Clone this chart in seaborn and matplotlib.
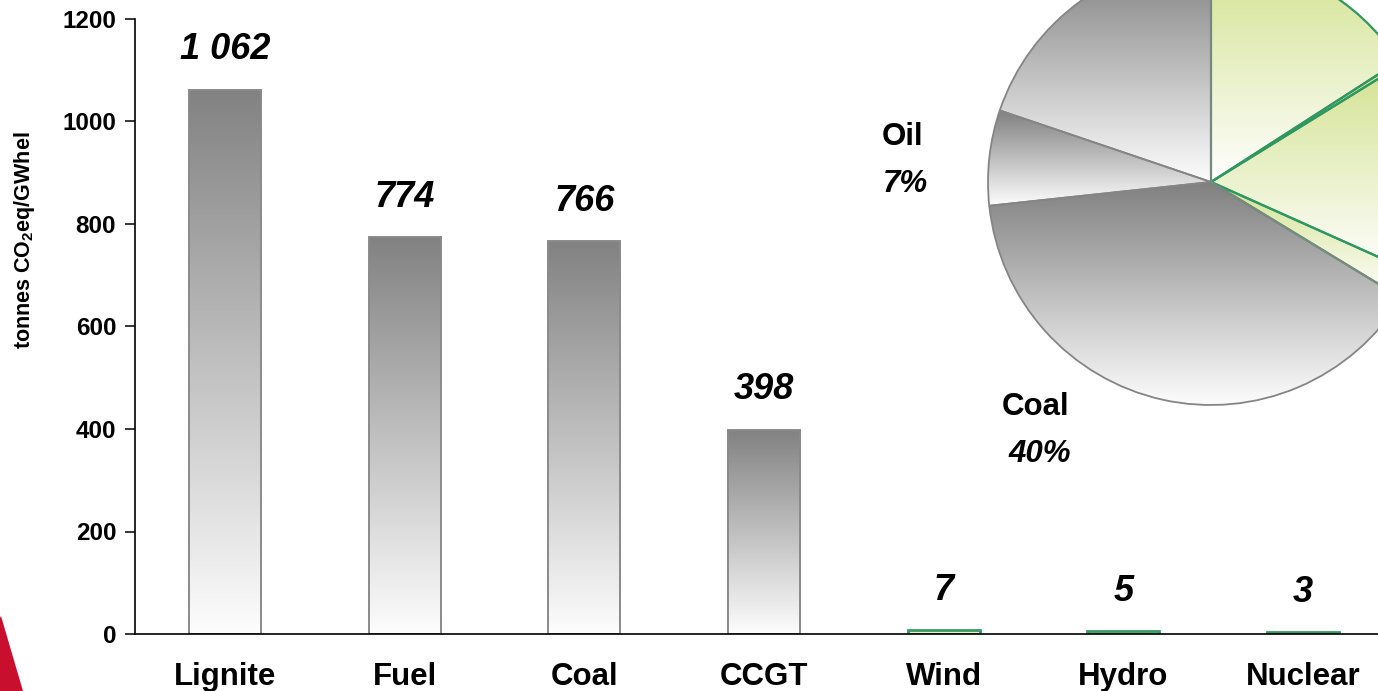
import numpy as np
import pandas as pd
import matplotlib
matplotlib.use("Agg")
import matplotlib.pyplot as plt
from matplotlib.colors import LinearSegmentedColormap
from matplotlib.patches import Polygon
import seaborn as sns

# Life-cycle emissions per technology
categories = ["Lignite", "Fuel", "Coal", "CCGT", "Wind", "Hydro", "Nuclear"]
emissions = [1062, 774, 766, 398, 7, 5, 3]
kinds = ["fossil", "fossil", "fossil", "fossil", "low", "low", "low"]
y_ticks = [0, 200, 400, 600, 800, 1000, 1200]

# Electricity generation mix (clockwise from 12 o'clock)
mix_sources = ["Nuclear", "Solar", "Hydro", "Other renewables", "Coal", "Oil", "Gas"]
mix_share = [15.9, 0.3, 15.5, 2.0, 39.6, 6.9, 19.8]
mix_kinds = ["low", "low", "low", "low", "fossil", "fossil", "fossil"]
mix_labels = {"Oil": "7%", "Coal": "40%"}

sns.set_theme(style="ticks")
plt.rcParams["font.family"] = ["Liberation Sans", "DejaVu Sans"]
plt.rcParams["font.weight"] = "bold"
for key in ("text.color", "axes.labelcolor", "xtick.color", "ytick.color",
            "axes.edgecolor"):
    plt.rcParams[key] = "black"
plt.rcParams["mathtext.fontset"] = "custom"
plt.rcParams["mathtext.rm"] = "Liberation Sans:bold"
plt.rcParams["mathtext.bf"] = "Liberation Sans:bold"
plt.rcParams["mathtext.it"] = "Liberation Sans:bold:italic"

FW, FH = 1378, 691
fig = plt.figure(figsize=(FW / 100, FH / 100), dpi=100)
fig.patch.set_facecolor("white")

style = {
    "fossil": dict(top="#828282", bottom="#fdfdfd", edge="#8a8a8a", lw=1.4),
    "low": dict(top="#d9e5a4", bottom="#f9fbef", edge="#3a9a66", lw=2.0),
}
pie_style = {
    "fossil": dict(top="#808080", bottom="#fdfdfd", edge="#858585", lw=1.3),
    "low": dict(top="#d3e290", bottom="#ffffff", edge="#2f9760", lw=1.6),
}


def gradient_fill(ax, patch, top, bottom):
    bb = patch.get_path().get_extents(patch.get_patch_transform())
    cmap = LinearSegmentedColormap.from_list("grad", [bottom, top])
    im = ax.imshow(np.linspace(0, 1, 256).reshape(-1, 1), cmap=cmap,
                   extent=(bb.x0, bb.x1, bb.y0, bb.y1), origin="lower",
                   aspect="auto", interpolation="bilinear",
                   zorder=patch.get_zorder() - 0.05)
    im.set_clip_path(patch)
    patch.set_facecolor("none")


# ---- bar chart ----
ax = fig.add_axes([135 / FW, (FH - 634) / FH, 1258 / FW, 615 / FH])
df = pd.DataFrame({"tech": categories, "co2": emissions, "kind": kinds})
sns.barplot(data=df, x="tech", y="co2", hue="kind", dodge=False, width=0.4,
            palette={"fossil": "#999999", "low": "#dde8b0"}, legend=False,
            ax=ax)

for p in ax.patches:
    i = int(round(p.get_x() + p.get_width() / 2))
    if p.get_height() <= 0:
        continue
    s = style[kinds[i]]
    p.set_edgecolor(s["edge"])
    p.set_linewidth(s["lw"])
    gradient_fill(ax, p, s["top"], s["bottom"])

for i, v in enumerate(emissions):
    ax.annotate(f"{v:,}".replace(",", " "), xy=(i, v), xytext=(0, 29),
                textcoords="offset points", ha="center", va="center",
                fontsize=26, fontweight="bold", fontstyle="italic",
                color="black")

ax.set_xlim(-0.5, len(categories) - 0.5)
ax.set_ylim(0, 1200)
ax.set_yticks(y_ticks)
ax.set_yticklabels([str(t) for t in y_ticks], fontsize=17.5, fontweight="bold")
ax.set_xticks(range(len(categories)))
ax.set_xticklabels(categories, fontsize=22.5, fontweight="bold")
ax.tick_params(axis="x", length=0, pad=20)
ax.tick_params(axis="y", length=7, width=1.1, pad=6.5, color="black")
ax.set_xlabel("")
ax.set_ylabel(r"tonnes CO$_\mathbf{2}$eq/GWhel", fontsize=15.5,
              fontweight="bold")
ax.yaxis.set_label_coords(-0.0875, 0.6407)
ax.yaxis.label.set_va("center")
sns.despine(ax=ax)
for side in ("left", "bottom"):
    ax.spines[side].set_color("black")
    ax.spines[side].set_linewidth(1.2)
ax.set_facecolor("none")

# ---- generation mix pie ----
R = 223
cx, cy = 1211, FH - 182
pax = fig.add_axes([(cx - R) / FW, (cy - R) / FH, 2 * R / FW, 2 * R / FH])
wedges, _ = pax.pie(mix_share, startangle=90, counterclock=False, radius=1)
for w, k in zip(wedges, mix_kinds):
    s = pie_style[k]
    w.set_edgecolor(s["edge"])
    w.set_linewidth(s["lw"])
    gradient_fill(pax, w, s["top"], s["bottom"])
# the fossil slices sit on top so their grey outline stays visible
for w, k in zip(wedges, mix_kinds):
    if k == "fossil":
        w.set_zorder(3)
pax.set_xlim(-1, 1)
pax.set_ylim(-1, 1)
pax.set_aspect("equal")
pax.axis("off")

label_pos = {"Oil": (-1.385, 0.20), "Coal": (-0.785, -1.01)}
for name, pct in mix_labels.items():
    x, y = label_pos[name]
    pax.text(x, y, name, ha="center", va="center", fontsize=22.5,
             fontweight="bold", clip_on=False)
    pax.text(x + 0.015, y - 0.21, pct, ha="center", va="center",
             fontsize=22.5, fontweight="bold", fontstyle="italic",
             clip_on=False)

# corner logo mark (pixel coordinates measured from the top edge)
logo = [(0, 618), (0, 691), (23, 691), (1, 616)]
fig.patches.append(Polygon([(x, FH - y) for x, y in logo], closed=True,
                           transform=None, facecolor="#c8102e",
                           edgecolor="none"))

fig.savefig("out.png", dpi=100, facecolor="white")
